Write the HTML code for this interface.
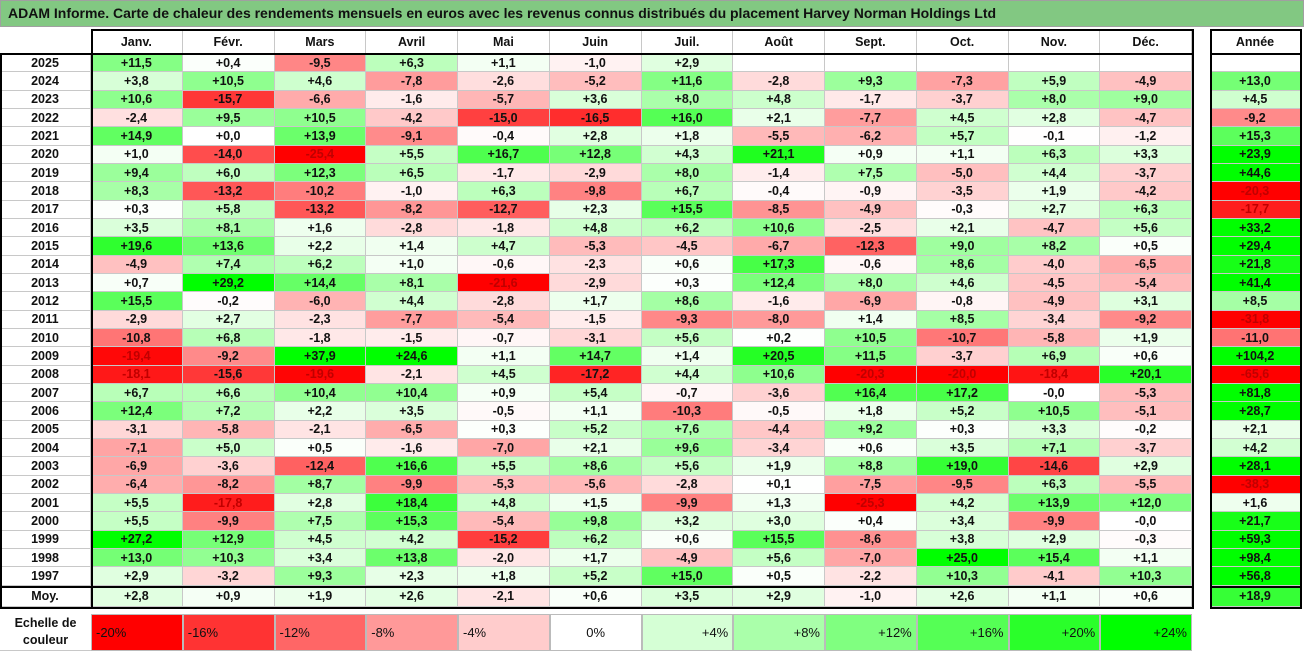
<!DOCTYPE html>
<html><head><meta charset="utf-8">
<style>
body{margin:0;width:1304px;height:652px;background:#fff;overflow:hidden;font-family:"Liberation Sans",sans-serif;}
#root{position:relative;width:1304px;height:652px;}
.c{position:absolute;box-sizing:border-box;font-weight:bold;font-size:12.5px;color:#111;display:flex;align-items:center;justify-content:center;border-right:1px solid #c8c8c8;border-bottom:1px solid #c8c8c8;white-space:nowrap;}
.b{position:absolute;box-sizing:border-box;border:2px solid #000;pointer-events:none;}
.ln{position:absolute;background:#000;}
</style></head><body>
<div id="root">
<div style="position:absolute;left:0;top:0;width:1304px;height:27px;background:#82c882;border:1px solid #a0a0a0;box-sizing:border-box;font-weight:bold;font-size:14px;line-height:25px;padding-left:7px;color:#111;">ADAM Informe. Carte de chaleur des rendements mensuels en euros avec les revenus connus distribués du placement Harvey Norman Holdings Ltd</div>
</div>
<script>
const months=["Janv.","Févr.","Mars","Avril","Mai","Juin","Juil.","Août","Sept.","Oct.","Nov.","Déc."];
const years=[2025,2024,2023,2022,2021,2020,2019,2018,2017,2016,2015,2014,2013,2012,2011,2010,2009,2008,2007,2006,2005,2004,2003,2002,2001,2000,1999,1998,1997];
const r2025=[11.5,0.4,-9.5,6.3,1.1,-1.0,2.9,null,null,null,null,null];
const r2024=[3.8,10.5,4.6,-7.8,-2.6,-5.2,11.6,-2.8,9.3,-7.3,5.9,-4.9];
const r2023=[10.6,-15.7,-6.6,-1.6,-5.7,3.6,8.0,4.8,-1.7,-3.7,8.0,9.0];
const r2022=[-2.4,9.5,10.5,-4.2,-15.0,-16.5,16.0,2.1,-7.7,4.5,2.8,-4.7];
const r2021=[14.9,0.0,13.9,-9.1,-0.4,2.8,1.8,-5.5,-6.2,5.7,-0.1,-1.2];
const r2020=[1.0,-14.0,-25.4,5.5,16.7,12.8,4.3,21.1,0.9,1.1,6.3,3.3];
const r2019=[9.4,6.0,12.3,6.5,-1.7,-2.9,8.0,-1.4,7.5,-5.0,4.4,-3.7];
const r2018=[8.3,-13.2,-10.2,-1.0,6.3,-9.8,6.7,-0.4,-0.9,-3.5,1.9,-4.2];
const r2017=[0.3,5.8,-13.2,-8.2,-12.7,2.3,15.5,-8.5,-4.9,-0.3,2.7,6.3];
const r2016=[3.5,8.1,1.6,-2.8,-1.8,4.8,6.2,10.6,-2.5,2.1,-4.7,5.6];
const r2015=[19.6,13.6,2.2,1.4,4.7,-5.3,-4.5,-6.7,-12.3,9.0,8.2,0.5];
const r2014=[-4.9,7.4,6.2,1.0,-0.6,-2.3,0.6,17.3,-0.6,8.6,-4.0,-6.5];
const r2013=[0.7,29.2,14.4,8.1,-21.6,-2.9,0.3,12.4,8.0,4.6,-4.5,-5.4];
const r2012=[15.5,-0.2,-6.0,4.4,-2.8,1.7,8.6,-1.6,-6.9,-0.8,-4.9,3.1];
const r2011=[-2.9,2.7,-2.3,-7.7,-5.4,-1.5,-9.3,-8.0,1.4,8.5,-3.4,-9.2];
const r2010=[-10.8,6.8,-1.8,-1.5,-0.7,-3.1,5.6,0.2,10.5,-10.7,-5.8,1.9];
const r2009=[-19.4,-9.2,37.9,24.6,1.1,14.7,1.4,20.5,11.5,-3.7,6.9,0.6];
const r2008=[-18.1,-15.6,-19.6,-2.1,4.5,-17.2,4.4,10.6,-20.3,-20.0,-18.4,20.1];
const r2007=[6.7,6.6,10.4,10.4,0.9,5.4,-0.7,-3.6,16.4,17.2,-0.0,-5.3];
const r2006=[12.4,7.2,2.2,3.5,-0.5,1.1,-10.3,-0.5,1.8,5.2,10.5,-5.1];
const r2005=[-3.1,-5.8,-2.1,-6.5,0.3,5.2,7.6,-4.4,9.2,0.3,3.3,-0.2];
const r2004=[-7.1,5.0,0.5,-1.6,-7.0,2.1,9.6,-3.4,0.6,3.5,7.1,-3.7];
const r2003=[-6.9,-3.6,-12.4,16.6,5.5,8.6,5.6,1.9,8.8,19.0,-14.6,2.9];
const r2002=[-6.4,-8.2,8.7,-9.9,-5.3,-5.6,-2.8,0.1,-7.5,-9.5,6.3,-5.5];
const r2001=[5.5,-17.8,2.8,18.4,4.8,1.5,-9.9,1.3,-25.3,4.2,13.9,12.0];
const r2000=[5.5,-9.9,7.5,15.3,-5.4,9.8,3.2,3.0,0.4,3.4,-9.9,-0.0];
const r1999=[27.2,12.9,4.5,4.2,-15.2,6.2,0.6,15.5,-8.6,3.8,2.9,-0.3];
const r1998=[13.0,10.3,3.4,13.8,-2.0,1.7,-4.9,5.6,-7.0,25.0,15.4,1.1];
const r1997=[2.9,-3.2,9.3,2.3,1.8,5.2,15.0,0.5,-2.2,10.3,-4.1,10.3];
const rows=[r2025,r2024,r2023,r2022,r2021,r2020,r2019,r2018,r2017,r2016,r2015,r2014,r2013,r2012,r2011,r2010,r2009,r2008,r2007,r2006,r2005,r2004,r2003,r2002,r2001,r2000,r1999,r1998,r1997];
const annual=[null,13.0,4.5,-9.2,15.3,23.9,44.6,-20.3,-17.7,33.2,29.4,21.8,41.4,8.5,-31.8,-11.0,104.2,-65.6,81.8,28.7,2.1,4.2,28.1,-38.3,1.6,21.7,59.3,98.4,56.8];
const averages=[2.8,0.9,1.9,2.6,-2.1,0.6,3.5,2.9,-1.0,2.6,1.1,0.6];
const avgAnnual=18.9;
const scaleValues=[-20,-16,-12,-8,-4,0,4,8,12,16,20,24];

const root=document.getElementById('root');
const X0=91, CW=91.75, Y0=54, RH=18.33, AX=1210, AW=91;
function colX(i){return X0+i*CW;}
function rowY(i){return Y0+i*RH;}
function color(v){
  if(v===null) return '#fff';
  if(v>=0){const t=Math.min(v/24,1);const k=Math.round(255*(1-t));return `rgb(${k},255,${k})`;}
  const t=Math.min(-v/20,1);const k=Math.round(255*(1-t));return `rgb(255,${k},${k})`;
}
function fmt(v){if(v===null)return '';const s=Math.abs(v).toFixed(1).replace('.',',');return (v<0||Object.is(v,-0)?'-':'+')+s;}
function cell(x,y,w,h,txt,bg){
  const d=document.createElement('div');d.className='c';
  d.style.left=x+'px';d.style.top=y+'px';d.style.width=w+'px';d.style.height=h+'px';
  d.style.background=bg||'#fff';d.textContent=txt;root.appendChild(d);return d;
}
function line(x,y,w,h){const d=document.createElement('div');d.className='ln';d.style.left=x+'px';d.style.top=y+'px';d.style.width=w+'px';d.style.height=h+'px';


root.appendChild(d);}

months.forEach((m,i)=>{
  const d=cell(colX(i),31,CW,23,m,'#fff');
  
  
});
const ah=cell(AX,31,AW,23,'Année','#fff');



years.forEach((y,r)=>{
  const yl=cell(0,rowY(r),X0,RH,String(y),'#fff');
  
  
  rows[r].forEach((v,i)=>{
    const d=cell(colX(i),rowY(r),CW,RH,fmt(v),color(v));
    if(v!==null&&v<=-17.5)d.style.color='#c00000';
    
    
  });
  const a=annual[r];
  const d=cell(AX,rowY(r),AW,RH,fmt(a),color(a));
  if(a!==null&&a<=-17.5)d.style.color='#c00000';
  
  
});
const my=rowY(years.length)+1;
const ml=cell(0,my,X0,607-my,'Moy.','#fff');


averages.forEach((v,i)=>{
  const d=cell(colX(i),my,CW,607-my,fmt(v),color(v));
  
  
});
const aa=cell(AX,my,AW,607-my,fmt(avgAnnual),color(avgAnnual));



// borders
line(91,29,1102,2);line(0,53,1193,2);line(0,my-1,1193,2);line(0,607,1193,2);
line(0,53,2,556);line(91,29,2,580);line(1192,29,2,580);
line(AX,29,AW,2);line(AX,53,AW,2);line(AX,my-1,AW,2);line(AX,607,AW,2);line(AX,29,2,580);line(AX+AW-1,29,2,580);

// scale
const sl=cell(0,614,X0,37,'','#fff');
sl.innerHTML='Echelle de<br>couleur';sl.style.textAlign='center';sl.style.lineHeight='17px';sl.style.borderRight='none';


scaleValues.forEach((v,i)=>{
  const txt=(v>0?'+':'')+v+'%';
  const d=cell(colX(i),614,CW,37,txt,color(v));
  d.style.fontWeight='normal';d.style.fontSize='13px';
  d.style.justifyContent=v<0?'flex-start':(v>0?'flex-end':'center');
  d.style.padding='0 4px';d.style.border='1px solid #bbb';
  
  
});
</script>
</body></html>
